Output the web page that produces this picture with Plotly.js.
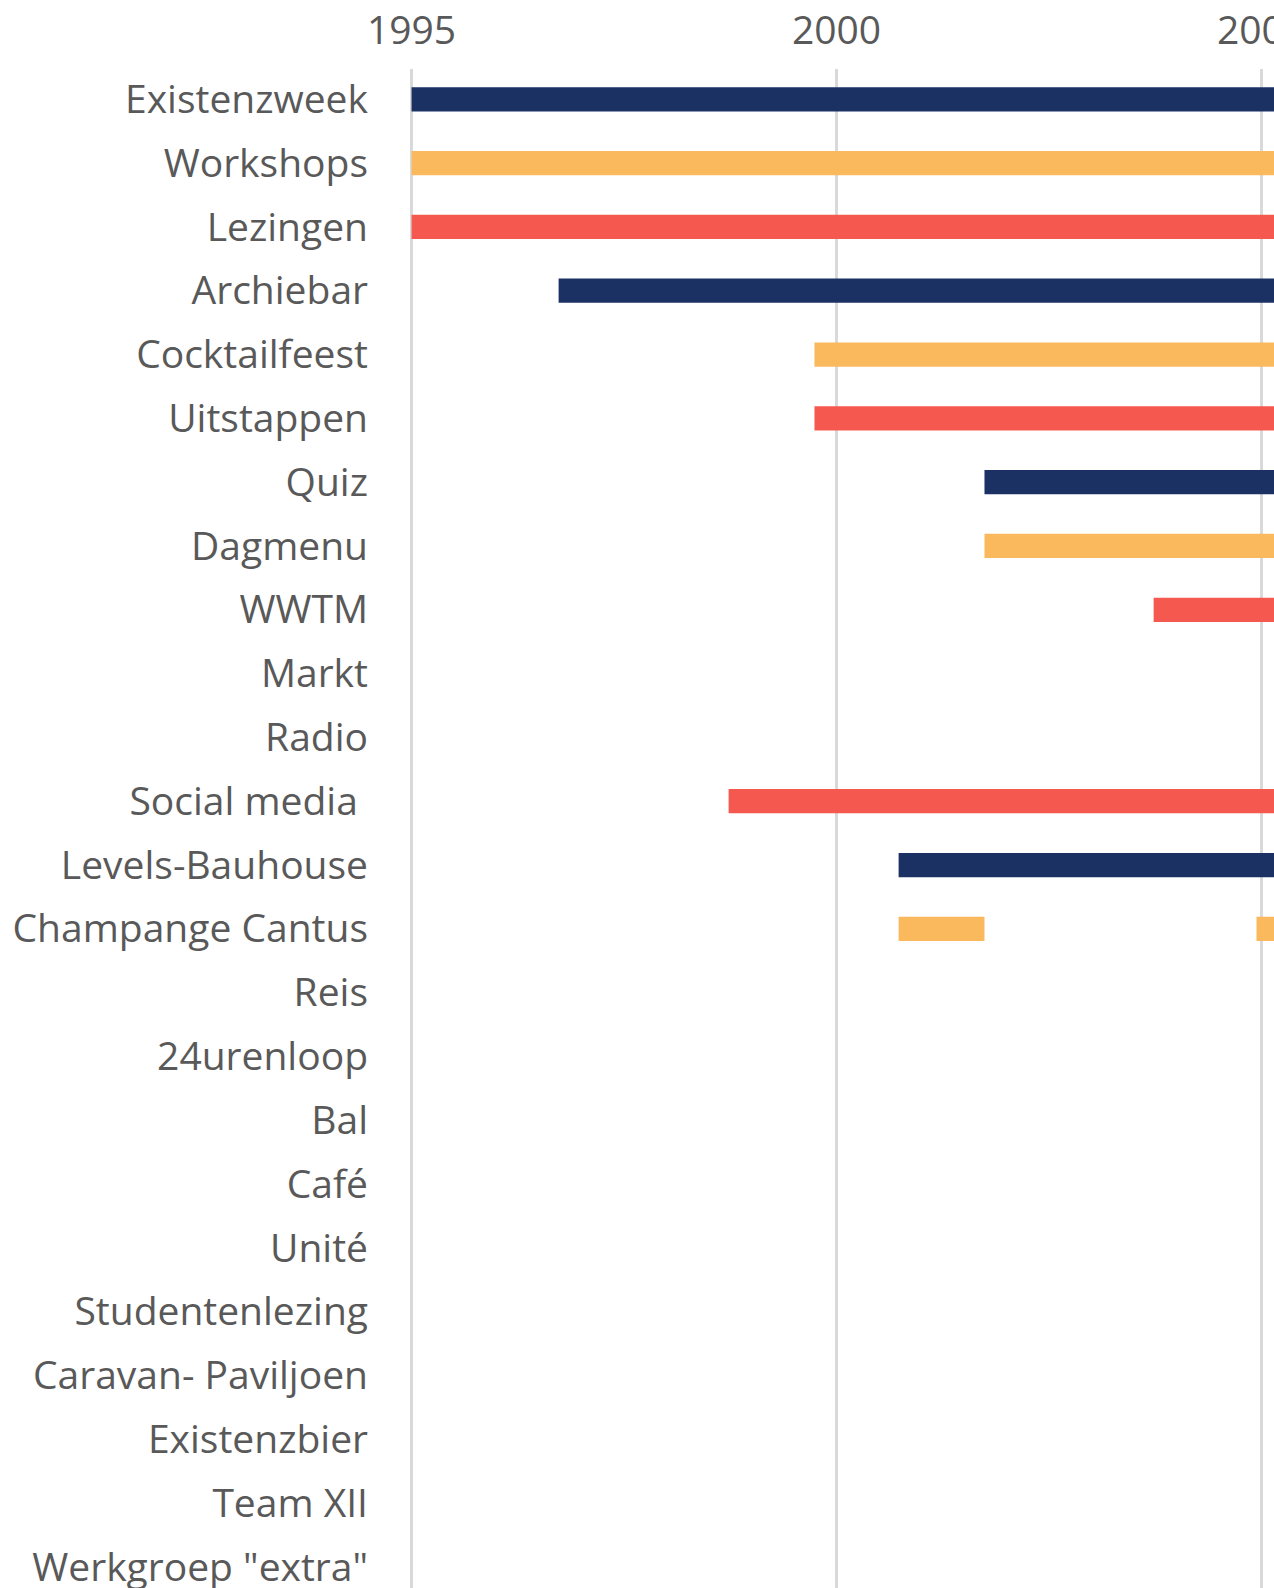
<!DOCTYPE html>
<html>
<head>
<meta charset="utf-8">
<script src="https://cdn.plot.ly/plotly-3.0.1.min.js"></script>
<style>html,body{margin:0;padding:0;background:#fff;}#chart{width:1274px;height:1588px;}</style>
</head>
<body>
<div id="chart"></div>
<script>
const categories = ["Existenzweek","Workshops","Lezingen","Archiebar","Cocktailfeest","Uitstappen","Quiz","Dagmenu","WWTM","Markt","Radio","Social media\u00a0","Levels-Bauhouse","Champange Cantus","Reis","24urenloop","Bal","Café","Unité","Studentenlezing","Caravan- Paviljoen","Existenzbier","Team XII","Werkgroep \"extra\""];

// first period per activity (start year, end year); null = no bar in visible range
const firstStart = [1995, 1995, 1995, 1996.73, 1999.74, 1999.74, 2001.74, 2001.74, 2003.73, null, null, 1998.73, 2000.73, 2000.73, null, null, null, null, null, null, null, null, null, null];
const firstEnd   = [2020, 2020, 2020, 2020, 2020, 2020, 2020, 2020, 2020, null, null, 2020, 2020, 2001.74, null, null, null, null, null, null, null, null, null, null];

// second period
const secondCats  = ["Champange Cantus"];
const secondStart = [2004.94];
const secondEnd   = [2007];

const palette = ["#1b3163", "#fab95c", "#f5584e"];
const xTicks = [1995, 2000, 2005];

const ys = [], bases = [], lens = [], cols = [];
categories.forEach((c, i) => {
  if (firstStart[i] !== null) {
    ys.push(c); bases.push(firstStart[i]); lens.push(firstEnd[i] - firstStart[i]);
    cols.push(palette[i % 3]);
  }
});
const ys2 = [], bases2 = [], lens2 = [], cols2 = [];
secondCats.forEach((c, j) => {
  const i = categories.indexOf(c);
  ys2.push(c); bases2.push(secondStart[j]); lens2.push(secondEnd[j] - secondStart[j]);
  cols2.push(palette[i % 3]);
});

const traces = [
  {type: 'bar', orientation: 'h', y: ys, x: lens, base: bases, width: 0.38,
   marker: {color: cols, line: {width: 0}}, hoverinfo: 'skip', showlegend: false},
  {type: 'bar', orientation: 'h', y: ys2, x: lens2, base: bases2, width: 0.38,
   marker: {color: cols2, line: {width: 0}}, hoverinfo: 'skip', showlegend: false}
];

const layout = {
  width: 1274, height: 1588,
  margin: {l: 409, r: 0, t: 69, b: 0, pad: 0},
  paper_bgcolor: '#ffffff', plot_bgcolor: '#ffffff',
  barmode: 'overlay',
  showlegend: false,
  font: {family: 'Open Sans, sans-serif', color: '#595959', size: 39},
  xaxis: {
    side: 'top', range: [1994.97, 2005.146], tickvals: xTicks, ticktext: xTicks.map(String),
    showgrid: true, gridcolor: '#d9d9d9', gridwidth: 3, zeroline: false, showline: false,
    ticks: '', ticklabelstandoff: 16, ticklabeloverflow: 'allow',
    tickfont: {size: 39, color: '#595959'}
  },
  yaxis: {
    type: 'category', categoryorder: 'array', categoryarray: categories,
    tickvals: categories, ticktext: categories,
    range: [23.33, -0.475], showgrid: false, zeroline: false, showline: false,
    ticks: '', ticklabelstandoff: 40, tickfont: {size: 39, color: '#595959'}
  }
};

Plotly.newPlot('chart', traces, layout, {staticPlot: true, displayModeBar: false});
</script>
</body>
</html>
